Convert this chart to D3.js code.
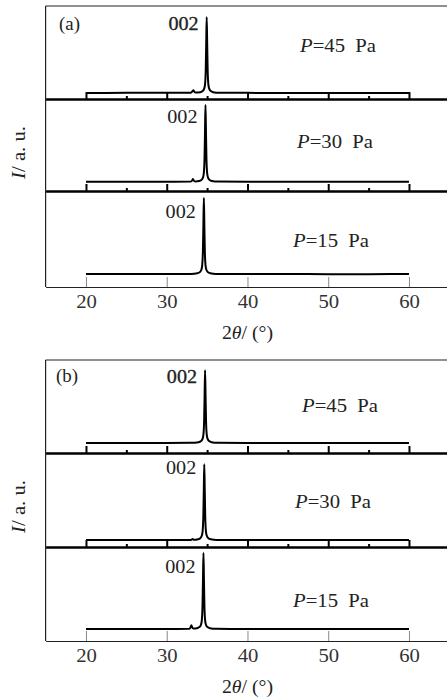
<!DOCTYPE html>
<html>
<head>
<meta charset="utf-8">
<script src="https://cdn.jsdelivr.net/npm/d3@7"></script>
<style>
  body { margin: 0; background: #fff; }
  svg { display: block; }
</style>
</head>
<body>
<div id="chart"></div>
<script>
// x axis ticks (2theta, degrees)
const majorTicks = [20, 30, 40, 50, 60];
const minorTicks = [25, 35, 45, 55];
const pressures = [45, 30, 15];
const panelNames = ["(a)", "(b)"];
const peakName = "002";

// XRD traces, [2theta, normalised intensity]
const a45 = [[20,0.065],[25,0.066],[30,0.066],[33.0,0.068],[33.2,0.085],[33.3,0.095],[33.4,0.08],[33.6,0.07],[34.15,0.073],[34.45,0.085],[34.65,0.114],[34.75,0.163],[34.83,0.31],[34.89,0.595],[34.95,0.88],[35.01,0.595],[35.07,0.31],[35.15,0.163],[35.25,0.114],[35.45,0.085],[35.75,0.073],[36.5,0.067],[40,0.066],[45,0.065],[50,0.065],[55,0.065],[60,0.065]];
const a30 = [[20,0.1],[25,0.1],[30,0.101],[33.0,0.102],[33.15,0.115],[33.25,0.13],[33.35,0.112],[33.6,0.104],[34.0,0.108],[34.3,0.121],[34.5,0.15],[34.6,0.2],[34.68,0.35],[34.74,0.643],[34.8,0.935],[34.86,0.643],[34.92,0.35],[35.0,0.2],[35.1,0.15],[35.3,0.121],[35.6,0.108],[36.3,0.102],[40,0.1],[45,0.1],[50,0.1],[55,0.1],[60,0.1]];
const a15 = [[20,0.135],[25,0.135],[30,0.135],[33,0.136],[33.8,0.143],[34.1,0.155],[34.3,0.182],[34.4,0.23],[34.48,0.372],[34.54,0.645],[34.6,0.927],[34.66,0.645],[34.72,0.372],[34.8,0.23],[34.9,0.182],[35.1,0.155],[35.4,0.143],[36.1,0.136],[40,0.135],[45,0.135],[50,0.134],[55,0.134],[60,0.135]];
const b45 = [[20,0.108],[25,0.108],[30,0.108],[33,0.109],[33.95,0.116],[34.25,0.128],[34.45,0.155],[34.55,0.202],[34.63,0.342],[34.69,0.615],[34.75,0.89],[34.81,0.615],[34.87,0.342],[34.95,0.202],[35.05,0.155],[35.25,0.128],[35.55,0.116],[36.3,0.109],[40,0.108],[45,0.108],[50,0.108],[55,0.108],[60,0.108]];
const b30 = [[20,0.074],[25,0.074],[30,0.074],[33,0.075],[33.2,0.085],[33.4,0.076],[33.85,0.082],[34.15,0.094],[34.35,0.122],[34.45,0.171],[34.53,0.316],[34.59,0.598],[34.65,0.88],[34.71,0.598],[34.77,0.316],[34.85,0.171],[34.95,0.122],[35.15,0.094],[35.45,0.082],[36.2,0.075],[40,0.074],[45,0.074],[50,0.074],[55,0.074],[60,0.074]];
const b15 = [[20,0.128],[25,0.128],[30,0.128],[32.8,0.129],[32.95,0.145],[33.05,0.168],[33.15,0.145],[33.3,0.132],[33.75,0.136],[34.05,0.148],[34.25,0.176],[34.35,0.225],[34.43,0.37],[34.49,0.653],[34.55,0.936],[34.61,0.653],[34.67,0.37],[34.75,0.225],[34.85,0.176],[35.05,0.148],[35.35,0.136],[36.1,0.129],[40,0.128],[45,0.128],[50,0.128],[55,0.128],[60,0.128]];

const traces = [[a45, a30, a15], [b45, b30, b15]];

// layout (pixels)
const width = 447, height = 700;
const left = 45.6;
const serif = '"Liberation Serif"';
const panels = [
  { bounds: [6, 99, 191, 287], nameX: 59, nameY: 30,
    peakY: [24, 24, 27], pX: [300, 297, 293], pY: [46, 49, 56] },
  { bounds: [360, 453, 547, 641], nameX: 56, nameY: 382,
    peakY: [23, 21, 26], pX: [302, 295, 293], pY: [52, 55, 60] }
];

const svg = d3.select("#chart").append("svg")
  .attr("width", width)
  .attr("height", height);

const x = d3.scaleLinear().domain([15, 65]).range([left, left + 50 * 8.075]);

// stretched serif text helper
function label(g, tx, ty, sx, size, anchor) {
  return g.append("text")
    .attr("transform", `translate(${tx},${ty}) scale(${sx},1)`)
    .attr("text-anchor", anchor || "start")
    .attr("fill", "#222")
    .style("font-family", serif)
    .style("font-size", size + "px");
}

panels.forEach((p, pi) => {
  const g = svg.append("g");
  const b = p.bounds;

  // frame: top and left
  g.append("line").attr("x1", left).attr("x2", width).attr("y1", b[0]).attr("y2", b[0])
    .attr("stroke", "#222").attr("stroke-width", 1.2);
  g.append("line").attr("x1", left).attr("x2", left).attr("y1", b[0]).attr("y2", b[3])
    .attr("stroke", "#222").attr("stroke-width", 1.2);

  traces[pi].forEach((data, si) => {
    const y = d3.scaleLinear().domain([0, 1]).range([b[si + 1], b[si]]);
    const line = d3.line()
      .x(d => x(d[0]))
      .y(d => y(d[1]))
      .curve(d3.curveMonotoneX);

    g.append("path")
      .datum(data)
      .attr("d", line)
      .attr("fill", "none")
      .attr("stroke", "#000")
      .attr("stroke-width", 2)
      .attr("stroke-linejoin", "round");

    // peak label, placed left of the maximum
    const peak = data.reduce((m, d) => (d[1] > m[1] ? d : m));
    label(g, x(peak[0]) - 8, b[si] + p.peakY[si], 1.12, 18, "end")
      .text(peakName)
      .style("stroke", "#222").style("stroke-width", si === 0 ? 0.3 : 0);

    const t = label(g, p.pX[si], b[si] + p.pY[si], 1.15, 18);
    t.append("tspan").style("font-style", "italic").text("P");
    t.append("tspan").text("=" + pressures[si]);
    t.append("tspan").attr("dx", 9).text("Pa");
  });

  // separators between stacked traces: thick line with inward ticks
  [b[1], b[2]].forEach(sy => {
    const major = g.append("g").attr("transform", `translate(0,${sy})`)
      .call(d3.axisBottom(x).tickValues(majorTicks).tickSize(-7).tickSizeOuter(0).tickFormat(""));
    major.select(".domain").attr("stroke", "#000").attr("stroke-width", 2.5);
    major.selectAll(".tick line").attr("stroke", "#000").attr("stroke-width", 2);

    const minor = g.append("g").attr("transform", `translate(0,${sy})`)
      .call(d3.axisBottom(x).tickValues(minorTicks).tickSize(-3).tickSizeOuter(0).tickFormat(""));
    minor.select(".domain").remove();
    minor.selectAll(".tick line").attr("stroke", "#000").attr("stroke-width", 2);
  });

  // bottom axis
  const ax = g.append("g").attr("transform", `translate(0,${b[3]})`)
    .call(d3.axisBottom(x).tickValues(majorTicks).tickSize(-10).tickSizeOuter(0))
    .attr("font-family", null);
  ax.select(".domain").attr("stroke", "#222").attr("stroke-width", 1.2);
  ax.selectAll(".tick line").attr("stroke", "#888").attr("stroke-width", 1);
  ax.selectAll(".tick text")
    .attr("y", 21).attr("dy", null)
    .attr("transform", "scale(1.15,1)")
    .style("font-family", serif)
    .style("font-size", "18px")
    .attr("fill", "#333");

  // axis titles
  const xt = label(g, x(40), b[3] + 52, 1.1, 18, "middle");
  xt.append("tspan").text("2");
  xt.append("tspan").style("font-style", "italic").text("θ");
  xt.append("tspan").text("/ (°)");

  const yt = g.append("text")
    .attr("transform", `translate(25,${(b[0] + b[3]) / 2 + 6}) rotate(-90) scale(1.15,1)`)
    .attr("text-anchor", "middle")
    .attr("fill", "#222")
    .style("font-family", serif)
    .style("font-size", "18px");
  yt.append("tspan").style("font-style", "italic").text("I");
  yt.append("tspan").text("/ a. u.");

  label(g, p.nameX, p.nameY, 1.05, 18).text(panelNames[pi]);
});
</script>
</body>
</html>
